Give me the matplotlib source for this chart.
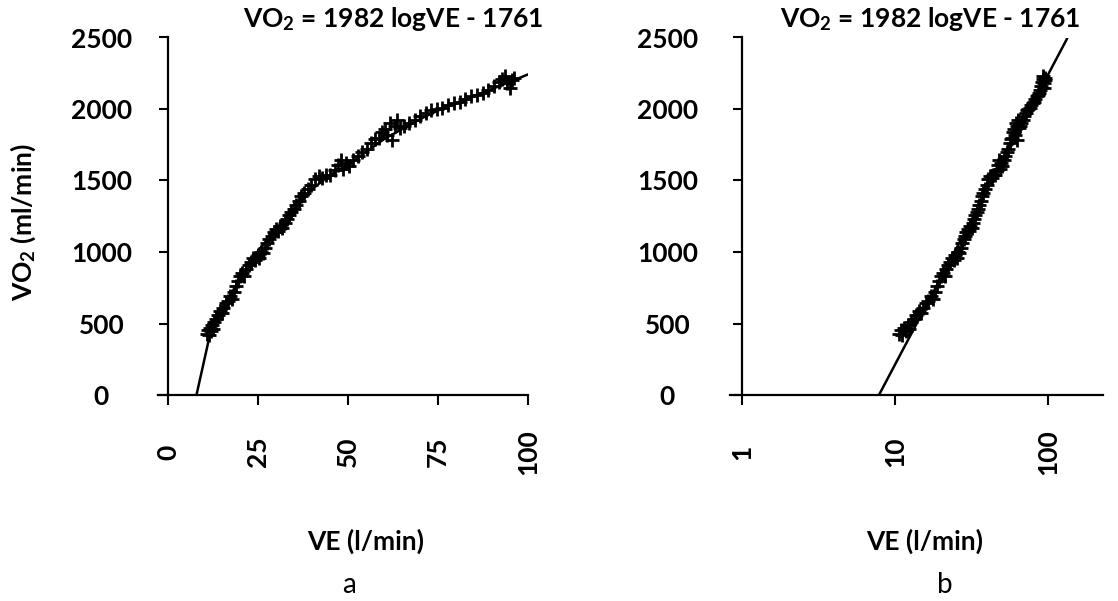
import matplotlib
matplotlib.use("Agg")
import matplotlib.pyplot as plt

plt.rcParams['font.family'] = ['Lato', 'DejaVu Sans']
plt.rcParams['mathtext.fontset'] = 'custom'
plt.rcParams['mathtext.rm'] = 'Lato:bold'
plt.rcParams['mathtext.it'] = 'Lato:italic'
plt.rcParams['mathtext.bf'] = 'Lato:bold'

# ---- data ----
ve_data = [10.6, 10.9, 11.2, 11.5, 11.8, 12.1, 12.4, 12.8, 13.3, 13.8, 14.3, 14.8, 15.3, 15.9,
           16.5, 17.1, 17.6, 18.2, 18.8, 19.4, 19.9, 20.5, 21.1, 21.7, 22.3, 23.0, 23.6, 24.2,
           24.8, 25.3, 25.8, 26.3, 26.9, 27.5, 28.1, 28.7, 29.3, 29.9, 30.5, 31.1, 31.7, 32.3,
           32.9, 33.5, 34.2, 34.9, 35.6, 36.3, 37.0, 37.8, 38.7, 39.7, 40.8, 41.8, 42.8, 43.8,
           44.9, 46.2, 47.2, 47.9, 48.6, 49.3, 50.1, 51.3, 52.6, 53.9, 55.2, 56.4, 57.5, 58.5,
           59.4, 60.2, 60.9, 61.6, 62.3, 63.0, 63.7, 64.5, 65.6, 67.0, 68.5, 70.1, 71.6, 73.1,
           74.6, 76.2, 77.8, 79.4, 81.0, 82.6, 84.2, 85.8, 87.4, 89.0, 90.6, 91.8, 92.7, 93.5,
           94.2, 94.9, 95.5, 96.1]
vo2_data = [430, 455, 420, 470, 445, 490, 465, 510, 530, 560, 585, 575, 610, 640,
            660, 690, 670, 720, 760, 800, 830, 850, 835, 880, 910, 930, 960, 945,
            980, 960, 1000, 990, 1030, 1060, 1090, 1110, 1140, 1160, 1150, 1180, 1170, 1200,
            1230, 1260, 1280, 1300, 1330, 1360, 1390, 1410, 1440, 1470, 1510, 1530, 1520, 1540,
            1535, 1570, 1610, 1640, 1580, 1620, 1600, 1640, 1670, 1700, 1720, 1760, 1790, 1800,
            1840, 1860, 1820, 1900, 1780, 1880, 1920, 1870, 1880, 1900, 1920, 1950, 1970, 1990,
            2000, 2010, 2030, 2040, 2050, 2070, 2090, 2100, 2110, 2130, 2160, 2190, 2210, 2230,
            2180, 2150, 2200, 2220]

# fitted curve as drawn in panel a
fit_a_ve = [7.8, 11.4, 15, 20, 25, 30, 35, 40, 45, 50, 55, 60, 65, 70, 75, 80, 85, 90, 95, 100.3]
fit_a_vo2 = [0, 406, 600, 820, 1010, 1160, 1300, 1440, 1540, 1610, 1700, 1790, 1860, 1930,
             1990, 2040, 2090, 2140, 2190, 2245]
# fitted line as drawn in panel b (log x axis)
fit_b_ve = [7.86, 133]
fit_b_vo2 = [0, 2490]

yticks = [0, 500, 1000, 1500, 2000, 2500]
xticks_a = [0, 25, 50, 75, 100]
xticks_b = [1, 10, 100]
title_text = 'VO$_\\mathregular{2}$ = 1982 logVE - 1761'
ylabel_text = 'VO$_\\mathregular{2}$ (ml/min)'
xlabel_text = 'VE (l/min)'
panel_labels = ['a', 'b']

W, H = 1118, 601
fig = plt.figure(figsize=(W / 100, H / 100), dpi=100)

FS = 19
PX = 72 / 100  # points per pixel


def style_axes(ax, ylab_center_px):
    for s in ['top', 'right']:
        ax.spines[s].set_visible(False)
    for s in ['left', 'bottom']:
        ax.spines[s].set_linewidth(1.6)
    ax.set_ylim(0, 2500)
    ax.set_yticks(yticks)
    ax.set_yticklabels([str(v) for v in yticks], fontsize=FS, fontweight='bold')
    ax.tick_params(axis='y', direction='out', length=9 * PX, width=1.5,
                   pad=ylab_center_px * PX - 9 * PX)
    for lab in ax.get_yticklabels():
        lab.set_horizontalalignment('center')
    ax.tick_params(axis='x', direction='out', length=10 * PX, width=1.5,
                   pad=57 * PX - 10 * PX, labelsize=FS, labelrotation=90)
    for lab in ax.get_xticklabels():
        lab.set_verticalalignment('center')
        lab.set_fontweight('bold')
    ax.minorticks_off()


# panel a
ax1 = fig.add_axes([158 / W, (H - 395) / H, 370 / W, 357.5 / H])
ax1.set_xlim(-2.9, 100)
ax1.spines['left'].set_position(('data', 0))
ax1.plot(fit_a_ve, fit_a_vo2, color='black', lw=1.8, zorder=3)
ax1.plot(ve_data, vo2_data, linestyle='none', marker='+', ms=10, mew=2, color='black', zorder=2)
ax1.set_xticks(xticks_a)
ax1.set_xticklabels([str(v) for v in xticks_a])
style_axes(ax1, 67)

# panel b
ax2 = fig.add_axes([730 / W, (H - 395) / H, 373 / W, 357.5 / H])
ax2.set_xscale('log')
ax2.set_xlim(0.835, 229)
ax2.spines['left'].set_position(('data', 1))
ax2.plot(fit_b_ve, fit_b_vo2, color='black', lw=1.8, zorder=3)
ax2.plot(ve_data, vo2_data, linestyle='none', marker='+', ms=10, mew=2, color='black', zorder=2)
ax2.set_xticks(xticks_b)
ax2.set_xticklabels([str(v) for v in xticks_b])
style_axes(ax2, 74.5)

# titles
fig.text(243 / W, 1 - 27 / H, title_text, fontsize=FS, fontweight='bold', ha='left', va='baseline')
fig.text(780 / W, 1 - 27 / H, title_text, fontsize=FS, fontweight='bold', ha='left', va='baseline')

# y label
fig.text(23 / W, 1 - 222 / H, ylabel_text, fontsize=FS, fontweight='bold', rotation=90,
         ha='center', va='center')

# x labels and panel letters
fig.text(366 / W, 1 - 550 / H, xlabel_text, fontsize=FS, fontweight='bold', ha='center', va='baseline')
fig.text(925 / W, 1 - 550 / H, xlabel_text, fontsize=FS, fontweight='bold', ha='center', va='baseline')
fig.text(349 / W, 1 - 593 / H, panel_labels[0], fontsize=FS + 1, ha='center', va='baseline')
fig.text(945 / W, 1 - 593 / H, panel_labels[1], fontsize=FS + 1, ha='center', va='baseline')

fig.savefig('out.png', dpi=100, facecolor='white')
